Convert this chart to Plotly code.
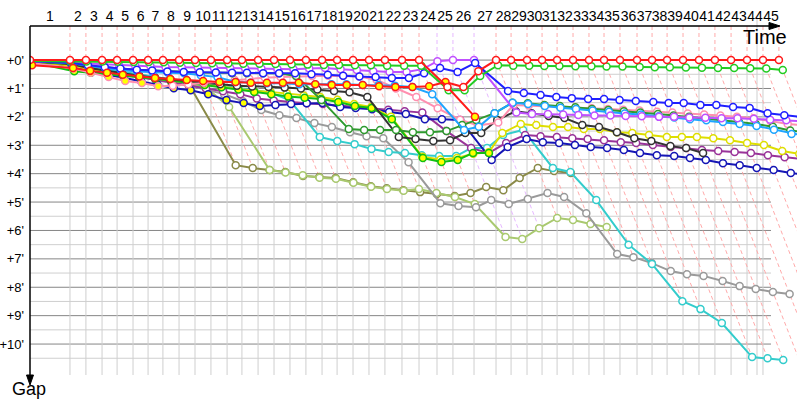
import plotly.graph_objects as go

N = None
lap_numbers = list(range(1, 46))
# leader cumulative time (s) at end of each lap, lap 0 = start
leader_time_s = [0, 218, 305, 393, 475, 562, 644, 725, 813, 900, 987,
                 1075, 1156, 1244, 1331, 1418, 1505, 1593, 1675, 1762, 1849,
                 1936, 2029, 2122, 2220, 2307, 2422, 2542, 2624, 2711, 2793,
                 2875, 2962, 3049, 3131, 3218, 3311, 3393, 3475, 3562, 3649,
                 3736, 3824, 3911, 3998, 4085]
gap_ticks = [0, 1, 2, 3, 4, 5, 6, 7, 8, 9, 10]

# gaps to the leader (minutes) at lap 0..45
olive = [0.06, 0.15, 0.25, 0.35, 0.45, 0.52, 0.60, 0.68, 0.77, 3.70,
         3.80, 3.87, 3.94, 4.08, 4.12, 4.15, 4.30, 4.44, 4.51, 4.58,
         4.65, 4.72, 4.79, 4.68, 4.47, 4.58, 4.15, 3.80, 3.91, 3.98,
         N, N, N, N, N, N, N, N, N, N, N, N, N, N, N, N]
light_olive = [0.05, 0.14, 0.24, 0.34, 0.44, 0.55, 0.65, 0.75, 0.85, 0.95,
               1.65, 3.87, 3.96, 4.06, 4.14, 4.18, 4.32, 4.46, 4.54, 4.60,
               4.54, 4.68, 4.82, 5.07, 6.23, 6.30, 5.92, 5.56, 5.63, 5.77,
               5.88, N, N, N, N, N, N, N, N, N, N, N, N, N, N, N]
gray = [0.06, 0.15, 0.28, 0.40, 0.50, 0.60, 0.70, 0.80, 0.90, 1.05,
        1.20, 1.45, 1.76, 1.94, 2.04, 2.22, 2.36, 2.54, 2.68, 2.75,
        3.60, 5.04, 5.14, 5.18, 4.93, 5.07, 4.89, 4.68, 4.82, 5.39,
        6.83, 6.94, 7.15, 7.43, 7.54, 7.60, 7.78, 7.96, 8.06, 8.17,
        8.24, N, N, N, N, N]
teal = [0.06, 0.12, 0.22, 0.32, 0.42, 0.52, 0.60, 0.70, 0.78, 0.84,
        0.90, 0.98, 1.05, 1.15, 1.41, 2.71, 2.85, 2.96, 3.13, 3.24,
        3.27, 3.35, 3.38, 3.38, 3.10, 3.10, 2.64, 2.46, 3.80, 3.94,
        4.93, 6.50, 7.18, 8.49, 8.77, 9.26, 10.46, 10.50, 10.56, N,
        N, N, N, N, N, N]
purple = [0.05, 0.18, 0.30, 0.40, 0.50, 0.60, 0.70, 0.80, 0.90, 1.00,
          1.10, 1.20, 1.35, 1.42, 1.48, 1.52, 1.55, 1.60, 1.65, 1.70,
          1.75, 1.80, 1.85, 2.50, 3.10, 3.27, 2.92, 2.64, 2.68, 2.71,
          2.75, 2.78, 2.82, 2.89, 2.92, 2.99, 3.06, 3.10, 3.17, 3.20,
          3.24, 3.27, 3.35, 3.42, 3.50, 3.55]
navy = [0.05, 0.20, 0.38, 0.52, 0.62, 0.75, 0.87, 0.99, 1.06, 1.20,
        1.41, 1.51, 1.62, 1.58, 1.55, 1.52, 1.51, 1.65, 1.69, 1.73,
        1.83, 1.90, 2.08, 2.08, 2.11, 3.52, 3.06, 2.78, 2.89, 2.92,
        2.99, 3.06, 3.10, 3.17, 3.27, 3.35, 3.38, 3.45, 3.52, 3.63,
        3.70, 3.80, 3.87, 3.98, 4.05, 4.10]
yellow = [0.06, 0.20, 0.32, 0.42, 0.50, 0.58, 0.65, 0.72, 0.80, 0.88,
          0.95, 1.02, 1.08, 1.12, 1.18, 1.25, 1.30, 1.40, 1.55, 1.65,
          2.00, 3.40, 3.50, 3.45, 3.30, 3.25, 2.57, 2.25, 2.29, 2.36,
          2.36, 2.43, 2.43, 2.54, 2.57, 2.64, 2.71, 2.71, 2.71, 2.75,
          2.82, 2.92, 2.99, 3.20, 3.30, 3.40]
bright_green = [0.07, 0.39, 0.45, 0.50, 0.55, 0.60, 0.66, 0.72, 0.80, 0.88,
                0.96, 1.04, 1.12, 1.20, 1.28, 1.33, 1.37, 1.48, 1.62, 1.69,
                2.08, 3.45, 3.59, 3.52, 3.27, 3.27, N, N, N, N,
                N, N, N, N, N, N, N, N, N, N, N, N, N, N, N, N]
black = [0.05, 0.15, 0.28, 0.38, 0.47, 0.55, 0.62, 0.68, 0.74, 0.80,
         0.85, 0.90, 0.93, 0.95, 0.97, 1.00, 1.04, 1.09, 1.13, 1.30,
         2.71, 2.78, 2.85, 2.82, 2.57, 2.57, 2.11, 1.80, 1.87, 1.97,
         2.04, 2.29, 2.36, 2.54, 2.75, 2.85, 3.03, 3.10, 3.27, N,
         N, N, N, N, N, N]
pink = [0.10, 0.30, 0.45, 0.60, 0.74, 0.81, 0.92, 0.90, 0.85, 0.80,
        0.75, 0.70, 0.66, 0.62, 0.60, 0.58, 0.56, 0.55, 0.56, 0.58,
        0.70, 1.00, 1.30, 1.70, 2.10, 2.30, 2.20, 1.58, 1.60, 1.62,
        1.65, 1.68, 1.70, 1.72, 1.75, 1.78, 1.82, 1.85, 1.88, 1.92,
        1.95, 2.00, 2.05, 2.15, 2.25, 2.30]
dark_green = [0.05, 0.12, 0.20, 0.26, 0.30, 0.34, 0.37, 0.40, 0.42, 0.44,
              0.45, 0.46, 0.46, 0.46, 0.46, 0.56, 1.41, 2.43, 2.46, 2.46,
              2.46, 2.54, 2.54, 2.50, 2.29, 2.11, 1.87, 1.50, 1.52, 1.58,
              1.62, 1.66, 1.72, 1.76, 1.80, 1.85, 1.90, 1.95, 2.00, 2.05,
              2.10, 2.18, 2.25, 2.35, 2.48, 2.55]
light_blue = [0.04, 0.10, 0.20, 0.28, 0.35, 0.40, 0.43, 0.45, 0.46, 0.53,
              0.60, 0.77, 0.80, 0.82, 0.82, 0.85, 0.85, 0.85, 0.85, 0.88,
              0.88, 0.90, 0.95, 1.20, 2.46, 2.35, 1.87, 1.50, 1.55, 1.62,
              1.68, 1.72, 1.78, 1.82, 1.88, 1.92, 1.98, 2.02, 2.08, 2.12,
              2.18, 2.25, 2.32, 2.45, 2.60, 2.70]
violet = [0.05, 0.08, 0.12, 0.15, 0.18, 0.20, 0.22, 0.24, 0.25, 0.26,
          0.27, 0.28, 0.29, 0.30, 0.31, 0.32, 0.30, 0.28, 0.32, 0.35,
          0.39, 0.42, 0.42, 0.32, 0.04, 0.00, 0.00, 1.85, 1.90, 1.90,
          1.92, 1.93, 1.95, 1.95, 1.97, 1.98, 2.00, 2.00, 2.02, 2.03,
          2.05, 2.05, 2.07, 2.10, 2.12, 2.15]
blue = [0.04, 0.10, 0.18, 0.25, 0.30, 0.34, 0.37, 0.40, 0.42, 0.43,
        0.44, 0.45, 0.45, 0.46, 0.46, 0.46, 0.50, 0.52, 0.55, 0.58,
        0.60, 0.63, 0.63, 0.46, 0.28, 0.42, 0.10, 1.09, 1.16, 1.23,
        1.30, 1.34, 1.37, 1.37, 1.41, 1.44, 1.48, 1.51, 1.51, 1.58,
        1.58, 1.65, 1.69, 1.87, 1.94, 2.00]
green = [0.03, 0.04, 0.05, 0.05, 0.06, 0.07, 0.07, 0.08, 0.09, 0.10,
         0.11, 0.12, 0.13, 0.13, 0.14, 0.15, 0.16, 0.17, 0.17, 0.18,
         0.18, 0.20, 0.20, 0.20, 1.06, 1.06, 0.56, 0.18, 0.20, 0.20,
         0.21, 0.21, 0.22, 0.22, 0.23, 0.23, 0.24, 0.25, 0.25, 0.26,
         0.27, 0.28, 0.28, 0.29, 0.30, 0.35]
red_b = [0.18, 0.28, 0.38, 0.45, 0.52, 0.58, 0.63, 0.67, 0.70, 0.74,
         0.77, 0.77, 0.80, 0.80, 0.80, 0.80, 0.85, 0.88, 0.88, 0.88,
         0.92, 0.95, 0.95, 0.92, 0.77, 0.95, 0.39, 0, 0, 0,
         0, 0, 0, 0, 0, 0, 0, 0, 0, 0, 0, 0, 0, 0, 0, 0]
red_a = [0, 0, 0, 0, 0, 0, 0, 0, 0, 0,
         0, 0, 0, 0, 0, 0, 0, 0, 0, 0,
         0, 0, 0, 0, 0.95, 2.00, N, N, N, N,
         N, N, N, N, N, N, N, N, N, N, N, N, N, N, N, N]

# (gaps, line colour, laps drawn with a yellow marker)
riders = [
    (olive, "#8a8a48", []),
    (light_olive, "#a9c96f", []),
    (gray, "#9a9a9a", []),
    (teal, "#33cccc", []),
    (purple, "#993399", []),
    (navy, "#1515b5", list(range(0, 13))),
    (yellow, "#dede00", []),
    (bright_green, "#11c011", list(range(0, 26))),
    (black, "#333333", []),
    (pink, "#ff8fb0", list(range(0, 7))),
    (dark_green, "#2f9a2f", []),
    (light_blue, "#1ea5ff", []),
    (violet, "#c050ff", []),
    (blue, "#1f1fff", []),
    (green, "#22cc22", []),
    (red_b, "#ff1a1a", list(range(0, 25))),
    (red_a, "#ff1a1a", [25]),
]
light_of = {"#ff1a1a": "#ffaaaa", "#c050ff": "#e6b8ff"}

PX_PER_MIN_X = 11.0
X_MAX = 767 / PX_PER_MIN_X
Y_TOP, Y_BOT = -1.2, 11.09
lap_t = [s / 60 for s in leader_time_s]

fig = go.Figure()

# lap guide lines (dashed), coloured after the lap leader
last = [None] * len(riders)
guides = {}
for k in range(1, len(lap_t)):
    depth = 0
    lead_g, lead_c = None, None
    for i, (g, c, _) in enumerate(riders):
        if g[k] is not None:
            last[i] = g[k]
            if lead_g is None or g[k] < lead_g:
                lead_g, lead_c = g[k], c
        if last[i] is not None:
            depth = max(depth, last[i])
    col = light_of.get(lead_c, "#ffaaaa")
    xs, ys = guides.setdefault(col, ([], []))
    t = lap_t[k]
    xs += [t, t, t + depth, None]
    ys += [Y_TOP, 0, depth, None]
for col, (xs, ys) in guides.items():
    fig.add_trace(go.Scatter(x=xs, y=ys, mode="lines", hoverinfo="skip",
                             line=dict(color=col, width=1, dash="4px,3px")))

for g, c, ylaps in riders:
    xs, ys, fills = [], [], []
    for k, v in enumerate(g):
        if v is None:
            continue
        xs.append(lap_t[k] + v)
        ys.append(v)
        fills.append("#ffff00" if k in ylaps else "#ffffff")
    fig.add_trace(go.Scatter(
        x=xs, y=ys, mode="lines+markers",
        line=dict(color=c, width=2),
        marker=dict(size=7, color=fills, line=dict(color=c, width=1.5))))


def px(x, y):
    """figure pixel -> paper coordinates (plot area 30..797 x 26..375)"""
    return (x - 30) / 767, (375 - y) / 349


shapes = []
grid_end = (771 - 30) / PX_PER_MIN_X
for v in [i * 0.5 for i in range(1, 22, 2)]:
    shapes.append(dict(type="line", xref="x", yref="y", x0=0, x1=grid_end, y0=v, y1=v,
                       line=dict(color="#cfcfcf", width=1), layer="below"))
for v in gap_ticks:
    shapes.append(dict(type="line", xref="x", yref="y", x0=0, x1=grid_end, y0=v, y1=v,
                       line=dict(color="#858585", width=1), layer="below"))
for t in lap_t[1:45]:
    shapes.append(dict(type="line", xref="x", yref="y", x0=t, x1=t, y0=0, y1=Y_BOT,
                       line=dict(color="#cfcfcf", width=1), layer="below"))
shapes.append(dict(type="line", xref="x", yref="paper", x0=(757 - 30) / PX_PER_MIN_X,
                   x1=(757 - 30) / PX_PER_MIN_X, y0=0, y1=1.025,
                   line=dict(color="#cfcfcf", width=1), layer="below"))
# axis lines
shapes.append(dict(type="line", xref="paper", yref="paper", x0=0, x1=0, y0=1,
                   y1=px(30, 377)[1], line=dict(color="black", width=1.5)))
shapes.append(dict(type="line", xref="paper", yref="paper", x0=0, x1=px(770, 26)[0],
                   y0=1, y1=1, line=dict(color="black", width=1.5)))
# arrowheads
a, b, c_ = px(30, 385), px(26.5, 375), px(33.5, 375)
shapes.append(dict(type="path", xref="paper", yref="paper", fillcolor="black",
                   line=dict(color="black", width=1),
                   path="M %f,%f L %f,%f L %f,%f Z" % (a[0], a[1], b[0], b[1], c_[0], c_[1])))
a, b, c_ = px(780, 26), px(769, 22.5), px(769, 29.5)
shapes.append(dict(type="path", xref="paper", yref="paper", fillcolor="black",
                   line=dict(color="black", width=1),
                   path="M %f,%f L %f,%f L %f,%f Z" % (a[0], a[1], b[0], b[1], c_[0], c_[1])))

# lap labels centred in their lap
mids = [(lap_t[k - 1] + lap_t[k]) / 2 for k in lap_numbers]

tx, ty = px(765, 37)
gx, gy = px(29, 389)
fig.update_layout(
    width=800, height=400,
    margin=dict(l=30, r=3, t=26, b=25, autoexpand=False),
    paper_bgcolor="white", plot_bgcolor="white",
    showlegend=False,
    font=dict(family="Liberation Sans, Arial, sans-serif", color="black"),
    shapes=shapes,
    xaxis=dict(range=[0, X_MAX], side="top", showgrid=False, zeroline=False,
               showline=False, ticks="", tickangle=0,
               tickvals=mids, ticktext=[str(n) for n in lap_numbers],
               tickfont=dict(size=14, color="black"), ticklabelstandoff=1),
    yaxis=dict(range=[Y_BOT, Y_TOP], showgrid=False, zeroline=False, showline=False,
               ticks="", tickvals=gap_ticks, ticktext=["+%d'" % v for v in gap_ticks],
               tickfont=dict(size=13, color="black"), ticklabelstandoff=5),
    annotations=[
        dict(xref="paper", yref="paper", x=tx, y=ty, xanchor="center", yanchor="middle",
             text="Time", showarrow=False, font=dict(size=20, color="black")),
        dict(xref="paper", yref="paper", x=gx, y=gy, xanchor="center", yanchor="middle",
             text="Gap", showarrow=False, font=dict(size=18, color="black")),
    ],
)

fig.write_html("out.html", config={"displayModeBar": False, "staticPlot": True},
               post_script="document.body.style.margin='0';document.body.style.overflow='hidden';")
